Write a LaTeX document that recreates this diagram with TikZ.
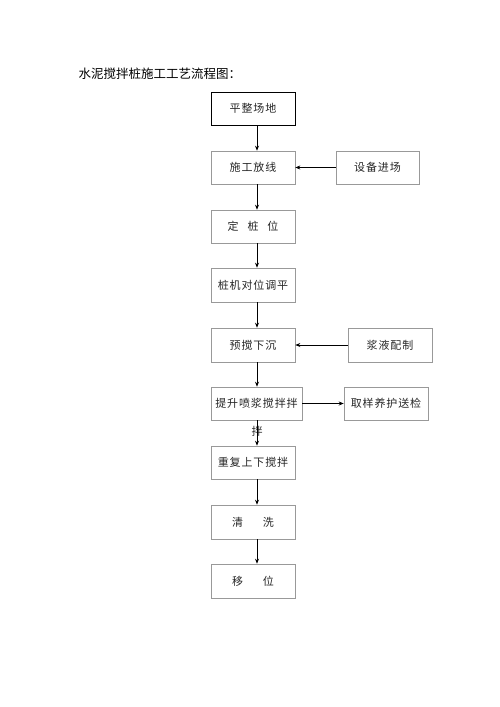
\documentclass[tikz,border=0pt]{standalone}
\usepackage{fontspec}
\setmainfont{Noto Sans CJK SC}
\usetikzlibrary{arrows.meta}
\begin{document}
\begin{tikzpicture}[x=1pt,y=-1pt,
  box/.style={draw=black!40,line width=0.6pt,minimum height=33pt,inner sep=0pt,font=\fontsize{11}{13}\selectfont\addfontfeatures{LetterSpace=8},text=black!85},
  arr/.style={-{Stealth[length=5pt,width=4pt]},line width=0.7pt}]
\useasboundingbox (0,0) rectangle (500,707);
\node[anchor=west,font=\fontsize{12.5}{14}\selectfont] (title) at (75,74) {水泥搅拌桩施工工艺流程图：};
\node[box,draw=black,line width=1pt,minimum width=84pt] (b1) at (253,108.5) {平整场地};
\node[box,minimum width=84pt] (b2) at (253,167.5) {施工放线};
\node[box,minimum width=84pt] (b3) at (253,226.5) {定\hspace{0.8em}桩\hspace{0.8em}位};
\node[box,minimum width=84pt,minimum height=34pt] (b4) at (253,285) {桩机对位调平};
\node[box,minimum width=84pt,minimum height=34pt] (b5) at (253,345) {预搅下沉};
\node[box,minimum width=91pt] (b6) at (256.5,403.5) {提升喷浆搅拌拌};
\node[box,minimum width=84pt] (b7) at (253,462.5) {重复上下搅拌};
\node[box,minimum width=84pt,minimum height=34pt] (b8) at (253,522) {清\hspace{1.8em}洗};
\node[box,minimum width=84pt,minimum height=34pt] (b9) at (253,581) {移\hspace{1.8em}位};
\node[box,minimum width=83pt] (r1) at (377.5,167.5) {设备进场};
\node[box,minimum width=84pt,minimum height=34pt] (r2) at (390,345) {浆液配制};
\node[box,minimum width=84pt] (r3) at (386,403.5) {取样养护送检};
\node[font=\fontsize{11}{13}\selectfont,text=black!85,inner sep=0pt] (ov) at (257,431) {拌};
\coordinate (ax) at (257,0);
\draw[arr] (b1.south -| ax) -- (b2.north -| ax);
\draw[arr] (b2.south -| ax) -- (b3.north -| ax);
\draw[arr] (b3.south -| ax) -- (b4.north -| ax);
\draw[arr] (b4.south -| ax) -- (b5.north -| ax);
\draw[arr] (b5.south -| ax) -- (b6.north -| ax);
\draw[arr] (b6.south -| ax) -- (b7.north -| ax);
\draw[arr] (b7.south -| ax) -- (b8.north -| ax);
\draw[arr] (b8.south -| ax) -- (b9.north -| ax);
\draw[arr] (r1.west) -- (b2.east);
\draw[arr] (r2.west) -- (b5.east);
\draw[arr] (b6.east) -- (r3.west);
\end{tikzpicture}
\end{document}
